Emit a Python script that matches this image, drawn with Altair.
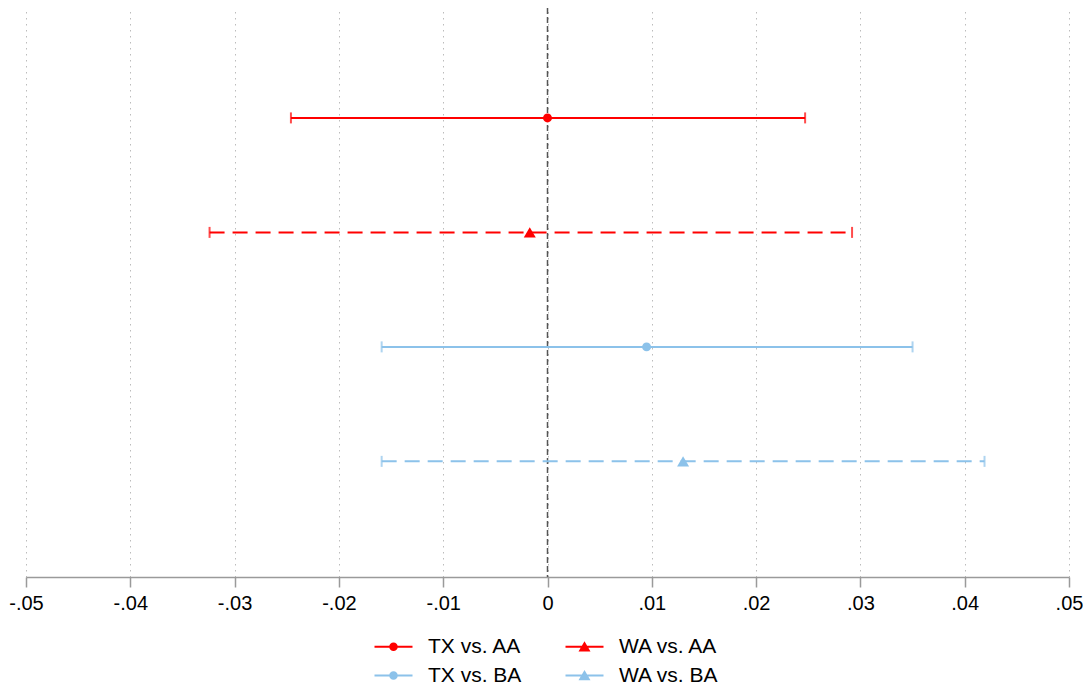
import altair as alt
import pandas as pd

# ---- data ----
labels = ["TX vs. AA", "WA vs. AA", "TX vs. BA", "WA vs. BA"]
rows = [1, 2, 3, 4]
estimates = [0.0, -0.0017, 0.0095, 0.0130]
ci_low = [-0.0246, -0.0324, -0.0159, -0.0159]
ci_high = [0.0247, 0.0292, 0.0350, 0.0419]
line_style = ["solid", "dashed", "solid", "dashed"]
markers = ["circle", "triangle", "circle", "triangle"]
tick_values = [-0.05, -0.04, -0.03, -0.02, -0.01, 0.0, 0.01, 0.02, 0.03, 0.04, 0.05]
zero_line = [0.0]

# ---- styles ----
RED = "#FF0000"
BLUE = "#8CC2EA"
series_colors = [RED, RED, BLUE, BLUE]
FONT = "Liberation Sans"

# legend symbols: line with a marker (filled paths)
circle_sym = ("M-2,-0.11H2V0.11H-2Z "
              "M0.45,0A0.45,0.45 0 1,1 -0.45,0A0.45,0.45 0 1,1 0.45,0Z")
tri_sym = ("M-2,-0.11H2V0.11H-2Z "
           "M0,-0.58L0.63,0.5L-0.63,0.5Z")
legend_shapes = [circle_sym, tri_sym, circle_sym, tri_sym]

df = pd.DataFrame({
    "label": labels,
    "row": rows,
    "est": estimates,
    "lo": ci_low,
    "hi": ci_high,
    "style": line_style,
    "marker": markers,
})
zdf = pd.DataFrame({"zero": zero_line})

x_scale = alt.Scale(domain=[-0.05, 0.05], nice=False, zero=False)
y_scale = alt.Scale(domain=[0.04, 5.01], reverse=True, nice=False, zero=False)
color_scale = alt.Scale(domain=labels, range=series_colors)

label_expr = ("datum.value == 0 ? '0' : (datum.value < 0 ? '-' : '') + "
              "replace(format(abs(datum.value), '.2f'), '0.', '.')")

x_axis = alt.Axis(
    values=tick_values, labelExpr=label_expr, title=None,
    grid=True, gridDash=[1.5, 4.5], gridColor="#bcbcbc", gridWidth=1,
    domainColor="#9a9a9a", domainWidth=1.5,
    tickColor="#9a9a9a", tickWidth=1.5, tickSize=10,
    labelFont=FONT, labelFontSize=20, labelColor="black", labelPadding=6,
    labelFlush=False, labelOverlap=False,
)

legend = alt.Legend(
    title=None, orient="none", legendX=357, legendY=628, columns=2,
    direction="horizontal",
    symbolSize=361, symbolStrokeWidth=0, symbolOpacity=1,
    labelFont=FONT, labelFontSize=21, labelColor="black", labelOffset=24,
    columnPadding=43, rowPadding=7, padding=0,
)

Y = alt.Y("row:Q", scale=y_scale, axis=None)
C = alt.Color("label:N", scale=color_scale, legend=legend)


def X(field):
    return alt.X(field, type="quantitative", scale=x_scale, axis=x_axis)


legend_layer = alt.Chart(df).mark_point(filled=True, opacity=0).encode(
    x=X("est"), y=Y, color=C,
    shape=alt.Shape("label:N", scale=alt.Scale(domain=labels, range=legend_shapes),
                    legend=legend),
)

zero_rule = alt.Chart(zdf).mark_rule(
    color="#555555", strokeWidth=1.5, strokeDash=[6, 3]
).encode(x=X("zero"))

bars = alt.Chart(df).mark_rule(strokeWidth=2).encode(
    x=X("lo"), x2="hi", y=Y, color=C,
    strokeDash=alt.StrokeDash(
        "style:N",
        scale=alt.Scale(domain=["solid", "dashed"], range=[[1, 0], [15, 8]]),
        legend=None,
    ),
)

cap_lo = alt.Chart(df).mark_tick(thickness=2, size=11, orient="vertical").encode(
    x=X("lo"), y=Y, color=C)
cap_hi = alt.Chart(df).mark_tick(thickness=2, size=11, orient="vertical").encode(
    x=X("hi"), y=Y, color=C)

circles = alt.Chart(df).transform_filter("datum.marker == 'circle'").mark_point(
    shape="circle", filled=True, size=80, opacity=1
).encode(x=X("est"), y=Y, color=C)
triangles = alt.Chart(df).transform_filter("datum.marker == 'triangle'").mark_point(
    shape="triangle-up", filled=True, size=144, opacity=1
).encode(x=X("est"), y=Y, color=C)

chart = alt.layer(
    legend_layer, zero_rule, bars, cap_lo, cap_hi, circles, triangles
).properties(
    width=1043, height=569,
    padding={"left": 18, "top": 0, "right": 14, "bottom": 109},
    autosize=alt.AutoSizeParams(type="none"),
    background="white",
).configure_view(stroke=None)

chart.save("out.html", embed_options={"renderer": "svg", "actions": False})
